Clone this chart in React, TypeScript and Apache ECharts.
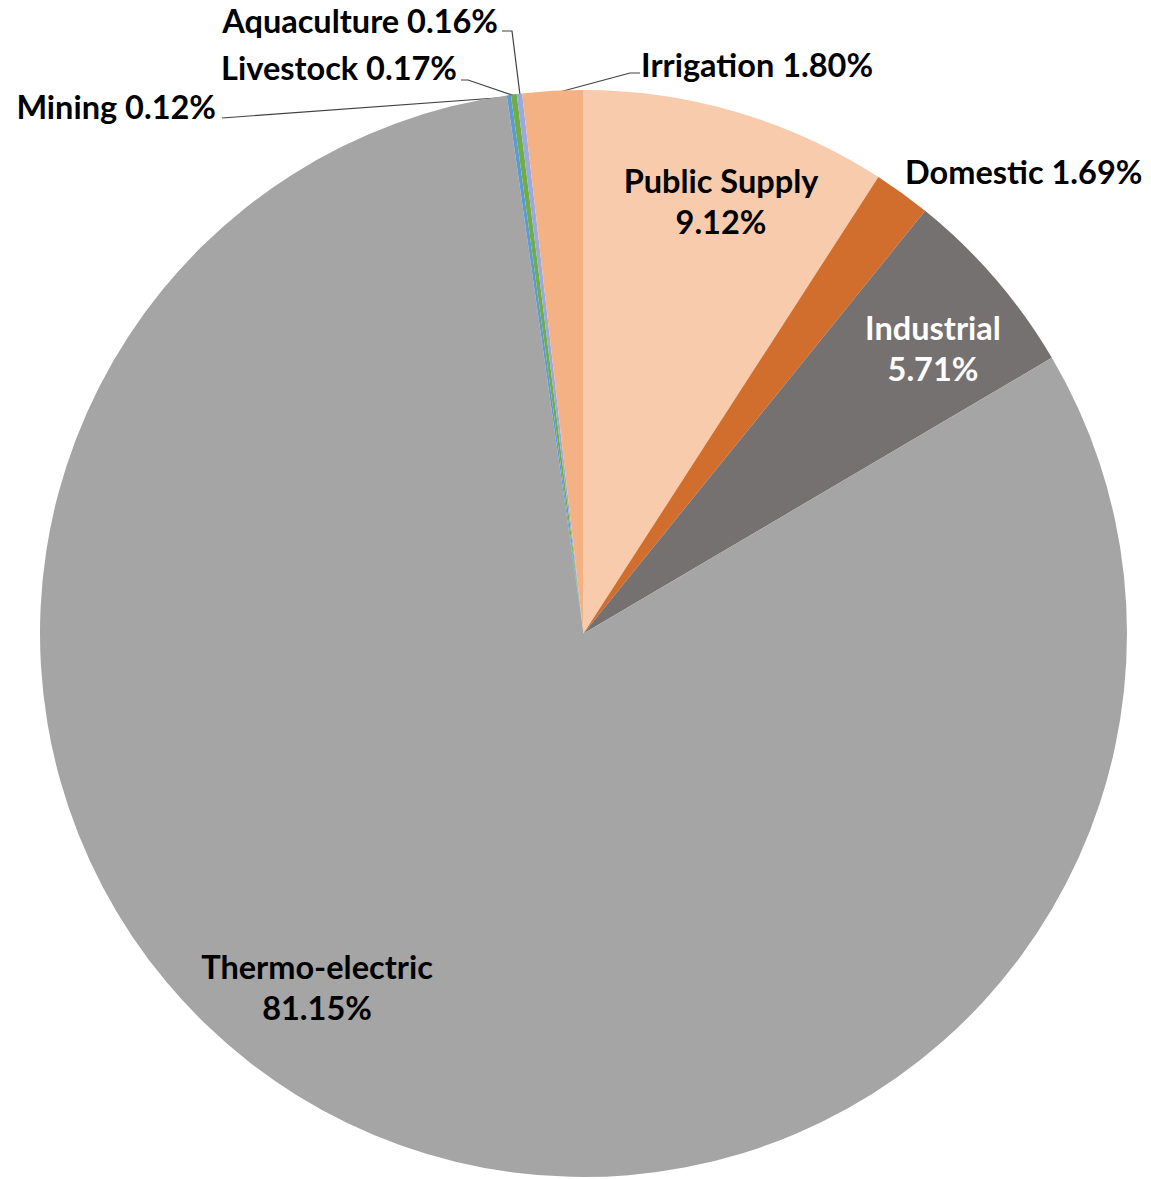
import React, { useEffect, useRef } from "react";
import * as echarts from "echarts";

const categories = [
  "Public Supply",
  "Domestic",
  "Industrial",
  "Thermo-electric",
  "Mining",
  "Livestock",
  "Aquaculture",
  "Irrigation",
];
const percentages = [9.12, 1.69, 5.71, 81.15, 0.12, 0.17, 0.16, 1.8];
const colors = [
  "#F8CBAD",
  "#D26E2D",
  "#767171",
  "#A5A5A5",
  "#5B9BD5",
  "#70AD47",
  "#9AA9DE",
  "#F4B183",
];
const insideLabels = ["Public Supply", "Industrial", "Thermo-electric"];

// label placement (layout only)
const labelPlacement: Record<string, any> = {
  "Public Supply": { x: 721, y: 201, align: "center" },
  Industrial: { x: 933, y: 348, align: "center" },
  "Thermo-electric": { x: 317, y: 987, align: "center" },
  Domestic: { x: 905, y: 171, align: "left" },
  Irrigation: {
    x: 641,
    y: 64,
    align: "left",
    line: [
      [552, 94],
      [630, 73],
      [640, 73],
    ],
  },
  Aquaculture: {
    x: 498,
    y: 20,
    align: "right",
    line: [
      [520, 95],
      [512, 31],
      [502, 31],
    ],
  },
  Livestock: {
    x: 457,
    y: 67,
    align: "right",
    line: [
      [515, 96],
      [468, 80],
      [461, 80],
    ],
  },
  Mining: {
    x: 216,
    y: 106,
    align: "right",
    line: [
      [510, 97],
      [222, 118],
      [222, 118],
    ],
  },
};

export default function App() {
  const ref = useRef<HTMLDivElement>(null);
  useEffect(() => {
    if (!ref.current) return;
    const chart = echarts.init(ref.current, null, { renderer: "svg" });
    const data = categories.map((name, i) => {
      const inside = insideLabels.includes(name);
      return {
        name,
        value: percentages[i],
        itemStyle: { color: colors[i] },
        label: {
          position: inside ? "inside" : "outside",
          color: name === "Industrial" ? "#FFFFFF" : "#000000",
          formatter: (p: any) =>
            inside
              ? `${p.name}\n${Number(p.value).toFixed(2)}%`
              : `${p.name} ${Number(p.value).toFixed(2)}%`,
        },
        labelLine: {
          show: !!labelPlacement[name].line,
        },
      };
    });
    chart.setOption({
      animation: false,
      backgroundColor: "#FFFFFF",
      series: [
        {
          type: "pie",
          center: [583.5, 633.5],
          radius: [0, 543.5],
          startAngle: 90,
          clockwise: true,
          avoidLabelOverlap: false,
          data,
          itemStyle: { borderWidth: 0 },
          label: {
            show: true,
            fontFamily: "Lato",
            fontWeight: "bold",
            fontSize: 32.5,
            lineHeight: 41,
          },
          labelLine: {
            lineStyle: { color: "#404040", width: 1.2 },
          },
          labelLayout: (params: any) => {
            const name = categories[params.dataIndex];
            const p = labelPlacement[name];
            const res: any = {
              x: p.x,
              y: p.y,
              align: p.align,
              verticalAlign: "middle",
            };
            if (p.line) res.labelLinePoints = p.line;
            return res;
          },
        },
      ],
    });
    return () => chart.dispose();
  }, []);
  return (
    <div
      ref={ref}
      style={{
        position: "absolute",
        left: 0,
        top: 0,
        width: 1151,
        height: 1179,
        background: "#FFFFFF",
      }}
    />
  );
}
